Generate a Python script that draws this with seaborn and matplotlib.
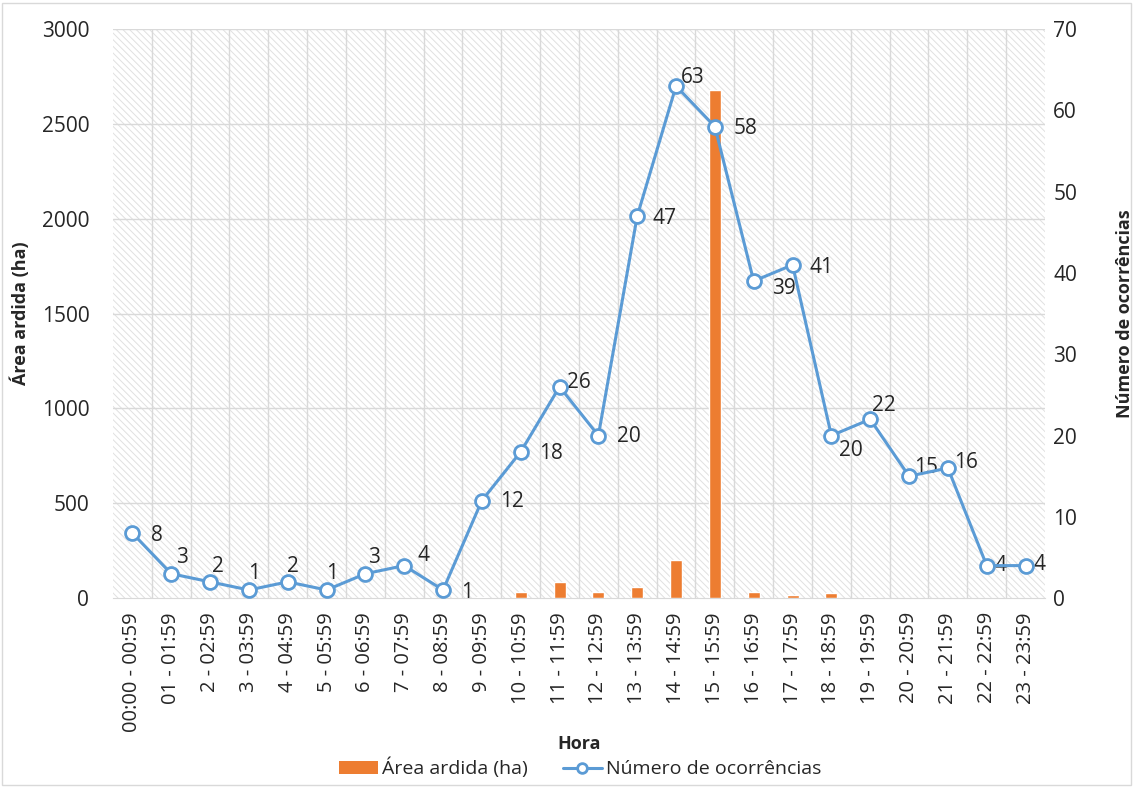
import numpy as np
import pandas as pd
import seaborn as sns
import matplotlib.pyplot as plt
from matplotlib.patches import Rectangle, Patch
from matplotlib.lines import Line2D

horas = ["00:00 - 00:59", "01 - 01:59", "2 - 02:59", "3 - 03:59", "4 - 04:59", "5 - 05:59",
         "6 - 06:59", "7 - 07:59", "8 - 08:59", "9 - 09:59", "10 - 10:59", "11 - 11:59",
         "12 - 12:59", "13 - 13:59", "14 - 14:59", "15 - 15:59", "16 - 16:59", "17 - 17:59",
         "18 - 18:59", "19 - 19:59", "20 - 20:59", "21 - 21:59", "22 - 22:59", "23 - 23:59"]
area_ardida = [0, 0, 0, 0, 0, 0, 0, 0, 0, 4, 30, 85, 30, 60, 200, 2680, 30, 15, 25, 8, 0, 0, 0, 0]
ocorrencias = [8, 3, 2, 1, 2, 1, 3, 4, 1, 12, 18, 26, 20, 47, 63, 58, 39, 41, 20, 22, 15, 16, 4, 4]

# label offsets in points (dx, dy)
offsets = [(18, -2), (8, 12), (6, 11), (4, 12), (4, 11), (4, 12), (6, 12), (14, 7), (17, -2),
           (22, -1), (22, -1), (14, 3), (22, -1), (20, -2), (12, 6), (22, -1), (22, -5),
           (21, -2), (14, -11), (10, 10), (12, 6), (13, 4), (10, 0), (10, 1)]

df = pd.DataFrame({"Hora": horas, "Area": area_ardida, "Ocorrencias": ocorrencias})

sns.set_style("white")
plt.rcParams["font.family"] = ["Open Sans", "DejaVu Sans"]
plt.rcParams["hatch.linewidth"] = 0.7

orange = "#ED7D31"
blue = "#5B9BD5"
grid_c = "#D9D9D9"
text_c = "#262626"

fig = plt.figure(figsize=(11.33, 7.87), dpi=100)
fig.patches.append(Rectangle((0.002, 0.002), 0.996, 0.994, transform=fig.transFigure,
                             fill=False, edgecolor="#D9D9D9", lw=1))
ax = fig.add_axes([0.0997, 0.240, 0.8226, 0.723])

# hatched background
ax.add_patch(Rectangle((0, 0), 1, 1, transform=ax.transAxes, facecolor="white",
                       edgecolor="#E0E0E0", hatch="\\\\\\\\\\", lw=0, zorder=0))

sns.barplot(data=df, x="Hora", y="Area", color=orange, width=0.31, saturation=1, ax=ax, zorder=3)
ax.set_ylim(0, 3000)
ax.set_xlim(-0.5, 23.5)
ax.set_yticks(range(0, 3001, 500))
ax.set_xticks(np.arange(-0.5, 24, 1), minor=True)
ax.grid(False)
for yv in range(500, 3001, 500):
    ax.axhline(yv, color=grid_c, lw=1, zorder=1)
for xv in np.arange(0.5, 23.5, 1):
    ax.axvline(xv, color=grid_c, lw=1, zorder=1)
ax.tick_params(axis="x", which="major", length=0, labelrotation=90, labelsize=14.5, pad=10,
               labelcolor=text_c)
ax.tick_params(axis="x", which="minor", length=7, color=grid_c, width=1)
ax.tick_params(axis="y", length=0, labelsize=15, pad=17, labelcolor=text_c)
for s in ["top", "left", "right"]:
    ax.spines[s].set_visible(False)
ax.spines["bottom"].set_color(grid_c)
ax.set_xlabel("Hora", fontsize=13, fontweight="bold")
ax.xaxis.set_label_coords(0.5, -0.241)
ax.set_ylabel("Área ardida (ha)", fontsize=13, fontweight="bold")
ax.yaxis.set_label_coords(-0.089, 0.5)

ax2 = ax.twinx()
sns.lineplot(x=np.arange(len(ocorrencias)), y=ocorrencias, ax=ax2, color=blue, lw=2.2,
             marker="o", markersize=10, markerfacecolor="white", markeredgecolor=blue,
             markeredgewidth=2, zorder=4)
ax2.set_ylim(0, 70)
ax2.set_yticks(range(0, 71, 10))
ax2.tick_params(axis="y", length=0, labelsize=15, pad=6, labelcolor=text_c)
for s in ["top", "left", "right", "bottom"]:
    ax2.spines[s].set_visible(False)
ax2.set_ylabel("Número de ocorrências", fontsize=13, fontweight="bold", rotation=90)
ax2.yaxis.set_label_coords(1.076, 0.5)
for i, v in enumerate(ocorrencias):
    ax2.annotate(str(v), (i, v), xytext=offsets[i], textcoords="offset points",
                 ha="center", va="center", fontsize=15, color=text_c)

handles = [Patch(facecolor=orange, edgecolor="none"),
           Line2D([0], [0], color=blue, lw=2.2, marker="o", markersize=7,
                  markerfacecolor="white", markeredgecolor=blue, markeredgewidth=2)]
fig.legend(handles, ["Área ardida (ha)", "Número de ocorrências"], loc="center",
           bbox_to_anchor=(0.512, 0.024), ncol=2, frameon=False, fontsize=14,
           handlelength=2.0, columnspacing=1.8, handletextpad=0.2)

fig.savefig("out.png", dpi=100)
